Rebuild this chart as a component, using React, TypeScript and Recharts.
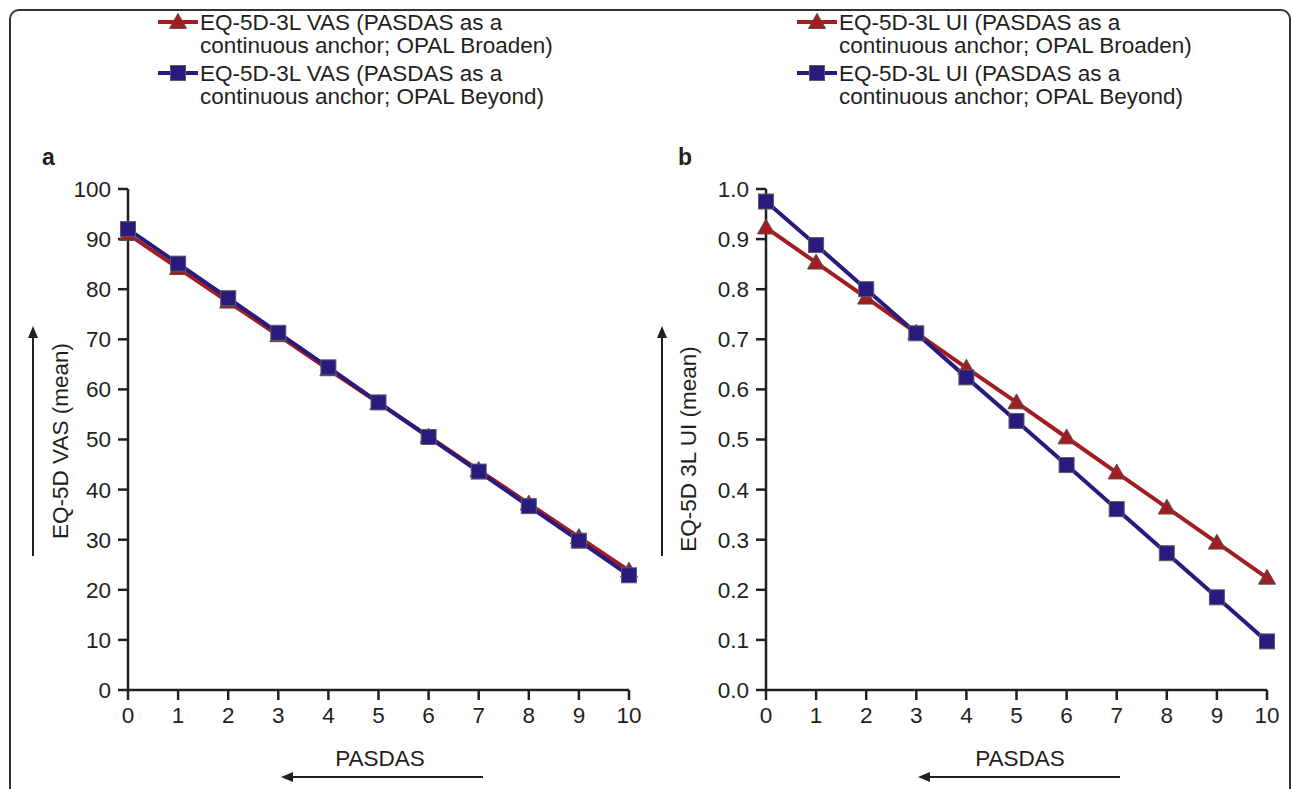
import { LineChart, Line, XAxis, YAxis } from 'recharts';

// PASDAS score on the x axis
const pasdas = [0, 1, 2, 3, 4, 5, 6, 7, 8, 9, 10];

// panel a: EQ-5D VAS (mean)
const vasBroaden = [91.0, 84.2, 77.5, 70.8, 64.0, 57.3, 50.6, 43.9, 37.2, 30.5, 23.8];
const vasBeyond = [92.0, 85.1, 78.2, 71.3, 64.4, 57.4, 50.5, 43.6, 36.7, 29.8, 22.9];
const vasTicks = [0, 10, 20, 30, 40, 50, 60, 70, 80, 90, 100];

// panel b: EQ-5D 3L UI (mean)
const uiBroaden = [0.923, 0.853, 0.783, 0.713, 0.643, 0.574, 0.504, 0.434, 0.364, 0.294, 0.224];
const uiBeyond = [0.975, 0.888, 0.8, 0.712, 0.624, 0.537, 0.449, 0.361, 0.273, 0.185, 0.097];
const uiTicks = [0, 0.1, 0.2, 0.3, 0.4, 0.5, 0.6, 0.7, 0.8, 0.9, 1.0];

const RED = '#a11d22';
const BLUE = '#2b1a7d';
const INK = '#231f20';
const FONT = '"Liberation Sans", Arial, Helvetica, sans-serif';
const FS = 22.5;

function triangle(cx: number, cy: number, key?: string) {
  const s = 8.5;
  return (
    <polygon
      key={key}
      points={`${cx},${cy - s} ${cx - s},${cy + s * 0.75} ${cx + s},${cy + s * 0.75}`}
      fill={RED}
      stroke="#5b4a4a"
      strokeWidth={1}
    />
  );
}

function square(cx: number, cy: number, key?: string) {
  const s = 7.5;
  return (
    <rect key={key} x={cx - s} y={cy - s} width={s * 2} height={s * 2} fill={BLUE} stroke="#5a5a6a" strokeWidth={1} />
  );
}

function TriDot(props: any) {
  const { cx, cy, index } = props;
  if (cx == null || cy == null) return <g key={`t-${index}`} />;
  return triangle(cx, cy, `t-${index}`);
}

function SqDot(props: any) {
  const { cx, cy, index } = props;
  if (cx == null || cy == null) return <g key={`s-${index}`} />;
  return square(cx, cy, `s-${index}`);
}

interface PanelProps {
  left: number;
  broaden: number[];
  beyond: number[];
  ticks: number[];
  max: number;
  digits: number;
}

function Panel({ left, broaden, beyond, ticks, max, digits }: PanelProps) {
  const data = pasdas.map((x, i) => ({ x, broaden: broaden[i], beyond: beyond[i] }));
  const tickStyle = { fill: INK, fontSize: FS, fontFamily: FONT };
  return (
    <div style={{ position: 'absolute', left, top: 0 }}>
      <LineChart width={660} height={789} data={data} margin={{ top: 189, right: 31, bottom: 59, left: 0 }}>
        <XAxis
          dataKey="x"
          type="number"
          domain={[0, 10]}
          ticks={pasdas}
          height={40}
          tickSize={10}
          tickMargin={7}
          tick={tickStyle}
          axisLine={{ stroke: INK, strokeWidth: 2.5 }}
          tickLine={{ stroke: INK, strokeWidth: 2.5 }}
        />
        <YAxis
          type="number"
          domain={[0, max]}
          ticks={ticks}
          width={128}
          tickSize={10}
          tickMargin={7}
          tick={tickStyle}
          tickFormatter={(v: number) => v.toFixed(digits)}
          axisLine={{ stroke: INK, strokeWidth: 2.5 }}
          tickLine={{ stroke: INK, strokeWidth: 2.5 }}
        />
        <Line dataKey="broaden" stroke={RED} strokeWidth={4} dot={TriDot} isAnimationActive={false} />
        <Line dataKey="beyond" stroke={BLUE} strokeWidth={4} dot={SqDot} isAnimationActive={false} />
      </LineChart>
    </div>
  );
}

function LegendEntry({ x, y, color, marker, lines }: { x: number; y: number; color: string; marker: 'tri' | 'sq'; lines: string[] }) {
  return (
    <g>
      <line x1={x} y1={y} x2={x + 40} y2={y} stroke={color} strokeWidth={4} />
      {marker === 'tri' ? triangle(x + 20, y) : square(x + 20, y)}
      {lines.map((t, i) => (
        <text key={i} x={x + 42} y={y + i * 23} dominantBaseline="central" fontSize={FS} fontFamily={FONT} fill={INK}>
          {t}
        </text>
      ))}
    </g>
  );
}

function Arrow({ x1, y1, x2, y2 }: { x1: number; y1: number; x2: number; y2: number }) {
  // arrow pointing from (x1,y1) to (x2,y2)
  const dx = x2 - x1;
  const dy = y2 - y1;
  const len = Math.sqrt(dx * dx + dy * dy);
  const ux = dx / len;
  const uy = dy / len;
  const bx = x2 - ux * 12;
  const by = y2 - uy * 12;
  return (
    <g>
      <line x1={x1} y1={y1} x2={bx} y2={by} stroke={INK} strokeWidth={2} />
      <polygon points={`${x2},${y2} ${bx - uy * 5},${by + ux * 5} ${bx + uy * 5},${by - ux * 5}`} fill={INK} />
    </g>
  );
}

function Annotations() {
  const labelStyle = { fontSize: FS, fontFamily: FONT, fill: INK };
  return (
    <svg width={1292} height={789} style={{ position: 'absolute', left: 0, top: 0, pointerEvents: 'none' }}>
      <LegendEntry x={158} y={22} color={RED} marker="tri" lines={['EQ-5D-3L VAS (PASDAS as a', 'continuous anchor; OPAL Broaden)']} />
      <LegendEntry x={158} y={73} color={BLUE} marker="sq" lines={['EQ-5D-3L VAS (PASDAS as a', 'continuous anchor; OPAL Beyond)']} />
      <LegendEntry x={797} y={22} color={RED} marker="tri" lines={['EQ-5D-3L UI (PASDAS as a', 'continuous anchor; OPAL Broaden)']} />
      <LegendEntry x={797} y={73} color={BLUE} marker="sq" lines={['EQ-5D-3L UI (PASDAS as a', 'continuous anchor; OPAL Beyond)']} />

      <text x={42} y={157} dominantBaseline="central" fontSize={23} fontWeight="bold" fontFamily={FONT} fill={INK}>a</text>
      <text x={678} y={157} dominantBaseline="central" fontSize={23} fontWeight="bold" fontFamily={FONT} fill={INK}>b</text>

      <text x={60} y={441} transform="rotate(-90 60 441)" textAnchor="middle" dominantBaseline="central" {...labelStyle}>EQ-5D VAS (mean)</text>
      <Arrow x1={33} y1={556} x2={33} y2={326} />
      <text x={688} y={449} transform="rotate(-90 688 449)" textAnchor="middle" dominantBaseline="central" {...labelStyle}>EQ-5D 3L UI (mean)</text>
      <Arrow x1={662} y1={556} x2={662} y2={326} />

      <text x={380} y={758} textAnchor="middle" dominantBaseline="central" {...labelStyle}>PASDAS</text>
      <Arrow x1={483} y1={777} x2={281} y2={777} />
      <text x={1020} y={758} textAnchor="middle" dominantBaseline="central" {...labelStyle}>PASDAS</text>
      <Arrow x1={1120} y1={777} x2={918} y2={777} />
    </svg>
  );
}

export default function App() {
  return (
    <div style={{ position: 'absolute', left: 0, top: 0, width: 1292, height: 789, overflow: 'hidden', background: '#fff' }}>
      <div
        style={{
          position: 'absolute',
          left: 9,
          top: 9,
          width: 1282,
          height: 900,
          boxSizing: 'border-box',
          border: '2px solid #333',
          borderRadius: 10,
        }}
      />
      <Panel left={0} broaden={vasBroaden} beyond={vasBeyond} ticks={vasTicks} max={100} digits={0} />
      <Panel left={638} broaden={uiBroaden} beyond={uiBeyond} ticks={uiTicks} max={1} digits={1} />
      <Annotations />
    </div>
  );
}
